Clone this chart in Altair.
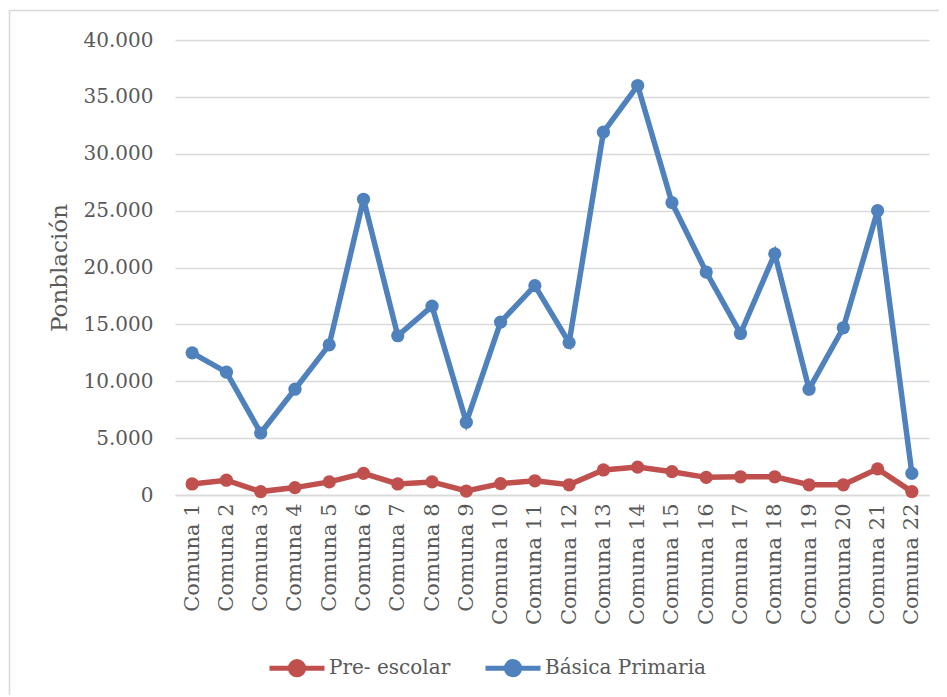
import altair as alt
import pandas as pd

comunas = [f"Comuna {i}" for i in range(1, 23)]
basica = [12500, 10800, 5450, 9300, 13200, 26000, 14000, 16600, 6400, 15200, 18400,
          13400, 31900, 36000, 25700, 19600, 14200, 21200, 9300, 14700, 25000, 1900]
preescolar = [970, 1300, 300, 650, 1150, 1900, 970, 1150, 350, 1000, 1250,
              900, 2200, 2450, 2050, 1550, 1600, 1600, 900, 900, 2300, 300]
series = ["Pre- escolar", "Básica Primaria"]
colors = ["#C0504D", "#4F81BD"]

df = pd.concat([
    pd.DataFrame({"comuna": comunas, "valor": preescolar, "serie": series[0]}),
    pd.DataFrame({"comuna": comunas, "valor": basica, "serie": series[1]}),
])

FONT = "DejaVu Serif"
GRAY = "#595959"

legend_path = "M-1,0H1M0.24,0A0.24,0.24,0,1,1,-0.24,0A0.24,0.24,0,1,1,0.24,0"

border = alt.Chart(pd.DataFrame({"a": [0]})).mark_rect(
    fill=None, stroke="#d9d9d9", strokeWidth=1.5
).encode(
    x=alt.value(-165.5), x2=alt.value(800), y=alt.value(-29.5), y2=alt.value(700)
)

lines = alt.Chart(df).mark_line(
    strokeWidth=5.5,
    point=alt.OverlayMarkDef(filled=True, size=175, opacity=1),
).encode(
    x=alt.X("comuna:N", sort=comunas, title=None,
            scale=alt.Scale(paddingInner=0, paddingOuter=0.5),
            axis=alt.Axis(labelAngle=-90, labelAlign="right", labelBaseline="middle",
                          ticks=False, domain=True, domainColor="#d9d9d9", domainWidth=1.5,
                          labelFont=FONT, labelFontSize=21, labelColor=GRAY, labelPadding=8,
                          grid=False)),
    y=alt.Y("valor:Q", title="Ponblación",
            scale=alt.Scale(domain=[0, 40000]),
            axis=alt.Axis(values=list(range(0, 40001, 5000)),
                          labelExpr="replace(format(datum.value, ','), ',', '.')",
                          ticks=False, domain=False, grid=True, gridColor="#d9d9d9",
                          gridWidth=1.5, labelFont=FONT, labelFontSize=20, labelColor=GRAY,
                          labelPadding=22, titleFont=FONT, titleFontSize=23,
                          titleColor=GRAY, titleFontWeight="normal", titlePadding=12)),
    color=alt.Color("serie:N", sort=series,
                    scale=alt.Scale(domain=series, range=colors),
                    legend=alt.Legend(title=None, orient="none", direction="horizontal",
                                      legendX=92, legendY=598,
                                      symbolType=legend_path, symbolSize=3025,
                                      symbolStrokeWidth=5, labelLimit=0,
                                      labelFont=FONT, labelFontSize=20, labelColor=GRAY,
                                      columnPadding=24, labelOffset=2)),
)

chart = alt.layer(border, lines).properties(
    width=754, height=455,
    autosize=alt.AutoSizeParams(type="none"),
    padding={"left": 167, "top": 32, "right": 10, "bottom": 200},
).configure_view(stroke=None)

chart.save("out.html", embed_options={"renderer": "svg", "actions": False})
